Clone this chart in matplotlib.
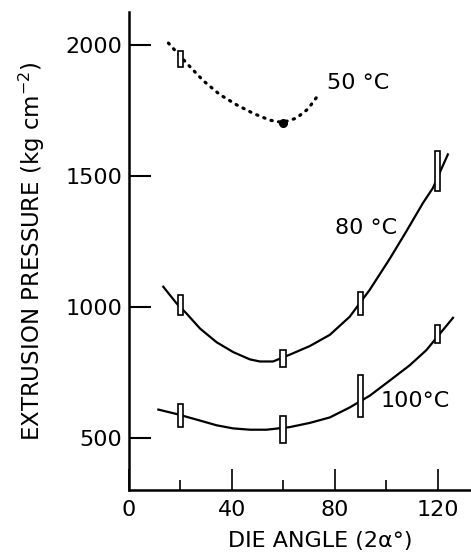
import matplotlib
matplotlib.use("Agg")
import matplotlib.pyplot as plt
from matplotlib.patches import Rectangle

# traced curves (die angle, pressure)
angle_50 = [15.3, 19.8, 22.4, 28.9, 35.3, 41.8, 48.3, 54.8, 59.7, 65.1, 69.6, 72.9]
press_50 = [2009, 1960, 1932, 1865, 1812, 1773, 1740, 1714, 1705, 1722, 1757, 1801]

angle_80 = [13.3, 18.5, 22.4, 27.6, 34.0, 40.5, 47.0, 50.9, 56.0, 62.5, 70.3,
            78.1, 85.8, 93.6, 101.4, 107.8, 114.3, 118.2, 124.0]
press_80 = [1077, 1013, 974, 917, 865, 827, 799, 791, 791, 817, 850,
            893, 962, 1065, 1184, 1288, 1397, 1455, 1583]

angle_100 = [11.4, 18.5, 27.6, 34.0, 40.5, 47.0, 53.5, 62.5, 70.3, 78.1,
             85.8, 93.6, 101.4, 109.1, 115.6, 126.0]
press_100 = [607, 590, 565, 547, 535, 530, 530, 540, 556, 577,
             615, 660, 718, 776, 834, 958]

# measured points with scatter (angle, low, high)
bars_50 = [(20, 1919, 1978)]
bars_80 = [(20, 969, 1046), (60, 769, 834), (90, 970, 1058), (120, 1442, 1596)]
bars_100 = [(20, 542, 628), (60, 478, 581), (90, 577, 740), (120, 863, 930)]
min_50 = (60, 1705)

labels = ["50 °C", "80 °C", "100°C"]
label_pos = [(77, 1858), (80, 1300), (98, 641)]

plt.rcParams['font.family'] = ['DejaVu Sans']

fig = plt.figure(figsize=(4.71, 5.56), dpi=100)
ax = fig.add_axes([0.274, 0.119, 0.726, 0.859])

ax.plot(angle_50, press_50, color="black", lw=2.3, linestyle=(0, (0.4, 2.0)),
        dash_capstyle="round")
ax.plot(angle_80, press_80, color="black", lw=1.6, solid_joinstyle="round")
ax.plot(angle_100, press_100, color="black", lw=1.6, solid_joinstyle="round")
ax.plot(*min_50, "o", color="black", ms=5.5)

for group in (bars_50, bars_80, bars_100):
    for x, lo, hi in group:
        ax.add_patch(Rectangle((x - 1.1, lo), 2.2, hi - lo, facecolor="white",
                               edgecolor="black", lw=1.2, zorder=3))

for txt, (x, y) in zip(labels, label_pos):
    ax.text(x, y, txt, fontsize=16, ha="left", va="center")

ax.set_xlim(0, 133)
ax.set_ylim(300, 2127)
for s in ("top", "right"):
    ax.spines[s].set_visible(False)
for s in ("left", "bottom"):
    ax.spines[s].set_linewidth(1.8)

ax.set_xticks([0, 40, 80, 120])
ax.set_xticks([20, 60, 100], minor=True)
ax.set_yticks([500, 1000, 1500, 2000])
ax.tick_params(axis="y", which="major", direction="in", length=16, width=1.5,
               labelsize=16, pad=5)
ax.tick_params(axis="x", which="major", direction="in", length=15, width=1.2,
               labelsize=16, pad=7)
ax.tick_params(axis="x", which="minor", direction="in", length=7, width=1.2)

ax.set_ylabel(r"EXTRUSION PRESSURE (kg cm$^{-2}$)", fontsize=16.5)
ax.yaxis.set_label_coords(-0.24, 0.5)
ax.set_xlabel("DIE ANGLE (2α°)", fontsize=16)
ax.xaxis.set_label_coords(0.56, -0.086)

fig.savefig("out.png", dpi=100)
